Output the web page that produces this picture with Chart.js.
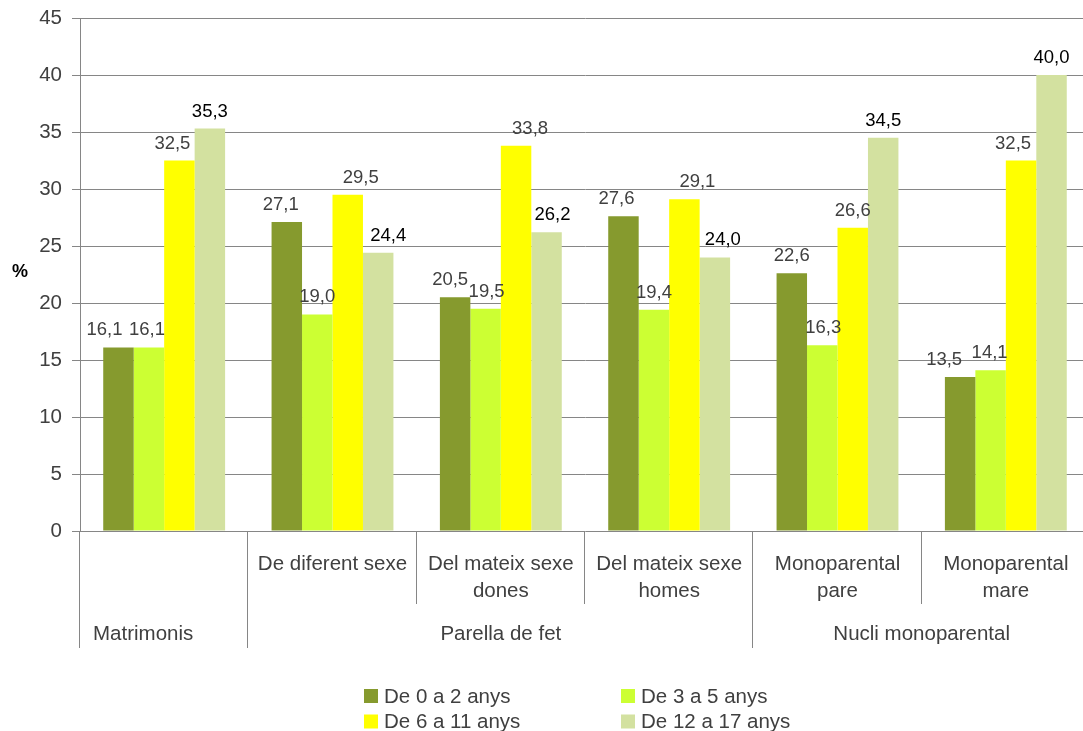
<!DOCTYPE html>
<html>
<head>
<meta charset="utf-8">
<script src="https://cdn.jsdelivr.net/npm/chart.js@4/dist/chart.umd.min.js"></script>
<style>
  html, body { margin: 0; padding: 0; background: #fff; overflow: hidden; }
  canvas { display: block; }
</style>
</head>
<body>
<canvas id="myChart" width="1092" height="731"></canvas>
<script>
// categories (first level) and the groups they belong to (second level)
const categories = ['', 'De diferent sexe', ['Del mateix sexe', 'dones'], ['Del mateix sexe', 'homes'], ['Monoparental', 'pare'], ['Monoparental', 'mare']];
const groups = ['Matrimonis', 'Parella de fet', 'Nucli monoparental'];
const groupSpans = [1, 3, 2];

const seriesNames = ['De 0 a 2 anys', 'De 3 a 5 anys', 'De 6 a 11 anys', 'De 12 a 17 anys'];
const de0a2 = [16.1, 27.1, 20.5, 27.6, 22.6, 13.5];
const de3a5 = [16.1, 19.0, 19.5, 19.4, 16.3, 14.1];
const de6a11 = [32.5, 29.5, 33.8, 29.1, 26.6, 32.5];
const de12a17 = [35.3, 24.4, 26.2, 24.0, 34.5, 40.0];

const yMax = 45;
const yStep = 5;
const yUnit = '%';

const colors = ['#869A2E', '#CCFF33', '#FFFF00', '#D3E1A0'];
const labelColors = ['#404040', '#404040', '#404040', '#000000'];
// sideways nudge of the value labels (px), so neighbours don't collide
const labelNudge = [
    [-14, -6, -5, -7, 0, -16],
    [-2, 0, 1, 0, 1, -1],
    [-7, 13, 14, 13, 0, -8],
    [0, 10, 6, 8, 0, 0]
];
const FONT = '"Liberation Sans", Arial, sans-serif';
const gridColor = '#868686';
const textColor = '#404040';

// value labels above the bars
const barValues = {
    id: 'barValues',
    afterDatasetsDraw(chart) {
        const ctx = chart.ctx;
        ctx.save();
        ctx.font = '18.5px ' + FONT;
        ctx.textAlign = 'center';
        ctx.textBaseline = 'alphabetic';
        chart.data.datasets.forEach((ds, i) => {
            chart.getDatasetMeta(i).data.forEach((bar, j) => {
                ctx.fillStyle = labelColors[i];
                ctx.fillText(ds.data[j].toFixed(1).replace('.', ','), bar.x + labelNudge[i][j], bar.y - 12);
            });
        });
        ctx.restore();
    }
};

// two-level category axis, unit label and legend
const axisLabels = {
    id: 'axisLabels',
    afterDraw(chart) {
        const ctx = chart.ctx;
        const area = chart.chartArea;
        const x = chart.scales.x;
        const step = x.getPixelForValue(1) - x.getPixelForValue(0);
        const edge = i => x.getPixelForValue(i) - step / 2;

        ctx.save();
        ctx.strokeStyle = gridColor;
        ctx.lineWidth = 1;

        // group edges go down through both rows
        const groupEdges = [0];
        groupSpans.forEach(s => groupEdges.push(groupEdges[groupEdges.length - 1] + s));
        for (let i = 0; i <= categories.length; i++) {
            const full = groupEdges.includes(i);
            const px = Math.round(edge(i)) - 0.5;
            ctx.beginPath();
            ctx.moveTo(px, area.bottom);
            ctx.lineTo(px, full ? 648 : 604);
            ctx.stroke();
        }

        ctx.fillStyle = textColor;
        ctx.font = '20.5px ' + FONT;
        ctx.textBaseline = 'alphabetic';
        ctx.textAlign = 'center';
        categories.forEach((c, i) => {
            const lines = Array.isArray(c) ? c : [c];
            lines.forEach((l, k) => ctx.fillText(l, x.getPixelForValue(i), 570 + k * 27));
        });

        groups.forEach((g, i) => {
            const a = edge(groupEdges[i]);
            const b = edge(groupEdges[i + 1]);
            if (groupSpans[i] === 1) {
                ctx.textAlign = 'left';
                ctx.fillText(g, a + 13, 640);
            } else {
                ctx.textAlign = 'center';
                ctx.fillText(g, (a + b) / 2, 640);
            }
        });

        // unit
        ctx.font = 'bold 18px ' + FONT;
        ctx.textAlign = 'center';
        ctx.textBaseline = 'middle';
        ctx.fillStyle = '#000';
        ctx.fillText(yUnit, 20, 272);

        // legend, two columns
        const colX = [364, 621];
        const rowY = [696, 721.5];
        ctx.font = '20.5px ' + FONT;
        ctx.textAlign = 'left';
        chart.data.datasets.forEach((ds, i) => {
            const bx = colX[i % 2];
            const by = rowY[Math.floor(i / 2)];
            ctx.fillStyle = ds.backgroundColor;
            ctx.fillRect(bx, by - 7, 14, 14);
            ctx.fillStyle = textColor;
            ctx.fillText(ds.label, bx + 20, by + 1);
        });
        ctx.restore();
    }
};

const series = [de0a2, de3a5, de6a11, de12a17];

new Chart(document.getElementById('myChart').getContext('2d'), {
    type: 'bar',
    data: {
        labels: categories,
        datasets: series.map((d, i) => ({
            label: seriesNames[i],
            data: d,
            backgroundColor: colors[i],
            borderWidth: 0,
            categoryPercentage: 0.724,
            barPercentage: 1
        }))
    },
    options: {
        responsive: false,
        animation: false,
        layout: { padding: { top: 18, bottom: 200, right: 2, left: 0 } },
        plugins: {
            legend: { display: false },
            tooltip: { enabled: false }
        },
        scales: {
            x: { display: false },
            y: {
                min: 0,
                max: yMax,
                afterFit: s => { s.width = 80; },
                ticks: {
                    stepSize: yStep,
                    padding: 10,
                    color: textColor,
                    // small lineHeight so the top label does not push the plot down
                    font: { family: FONT, size: 20.5, lineHeight: 0.7 }
                },
                grid: { color: gridColor, lineWidth: 1, tickLength: 8 },
                border: { color: gridColor }
            }
        }
    },
    plugins: [barValues, axisLabels]
});
</script>
</body>
</html>
